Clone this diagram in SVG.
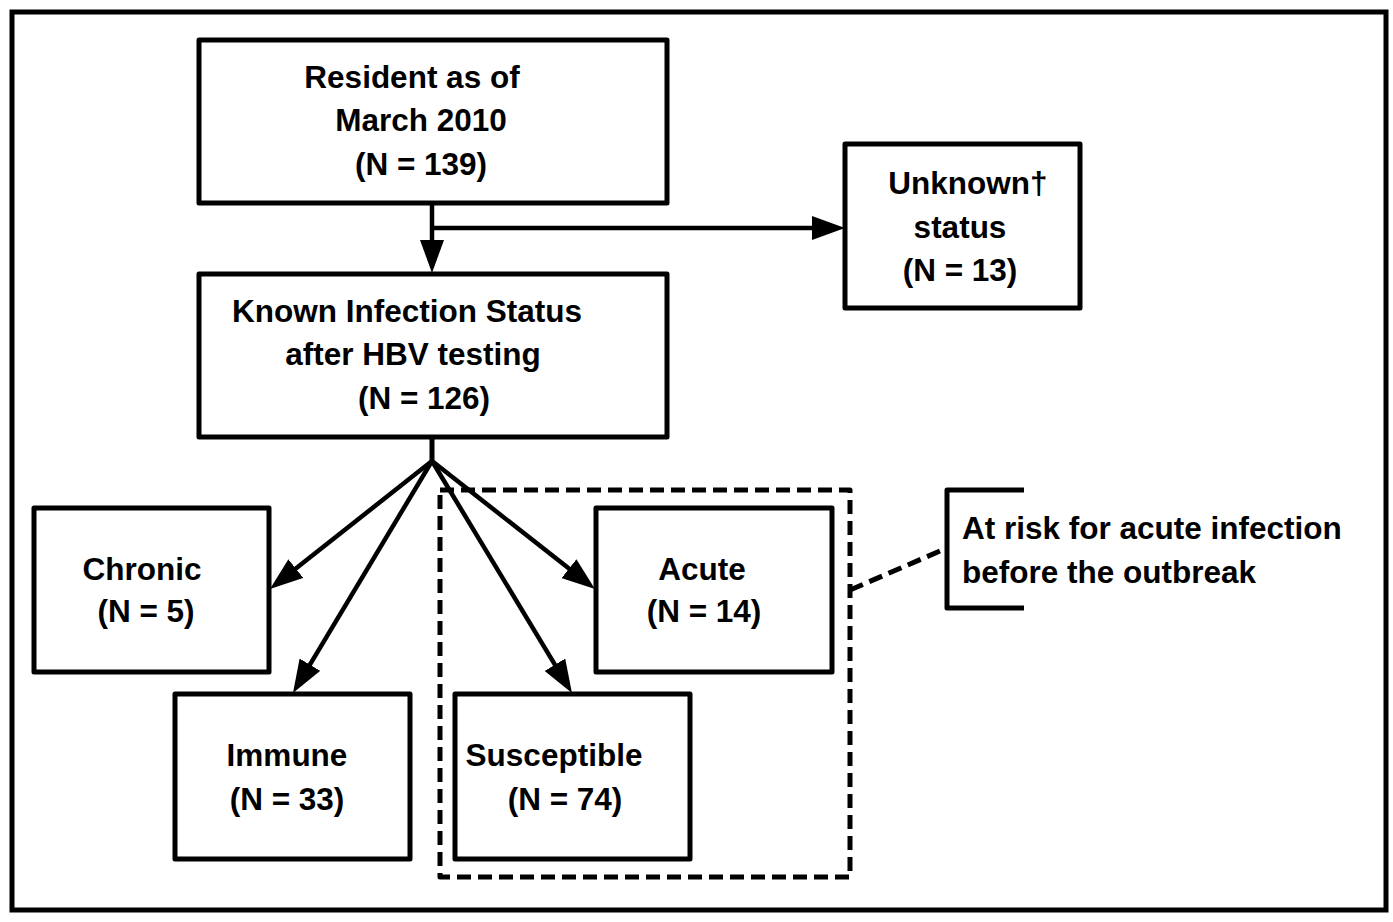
<svg xmlns="http://www.w3.org/2000/svg" width="1393" height="922" viewBox="0 0 1393 922">
<style>
  .box { fill: #fff; stroke: #000; stroke-width: 5; stroke-linejoin: round; }
  .t { font-family: "Liberation Sans", Arial, sans-serif; font-weight: bold; font-size: 31.5px; fill: #000; text-anchor: middle; }
  .tl { font-family: "Liberation Sans", Arial, sans-serif; font-weight: bold; font-size: 31.5px; fill: #000; text-anchor: start; }
  .ln { fill: none; stroke: #000; stroke-width: 5; }
  .arr { fill: none; stroke: #000; stroke-width: 4.5; marker-end: url(#ah); }
  .dash { fill: none; stroke: #000; stroke-width: 5; stroke-dasharray: 14 7; stroke-linejoin: round; }
</style>
<defs>
  <marker id="ah" markerUnits="userSpaceOnUse" markerWidth="33" markerHeight="24" refX="23" refY="12" orient="auto">
    <path d="M0,0 L33,12 L0,24 z" fill="#000"/>
  </marker>
</defs>
<rect width="1393" height="922" fill="#fff"/>
<rect x="12" y="12" width="1374" height="898" fill="none" stroke="#000" stroke-width="5"/>

<g id="connectors">
  <line class="arr" x1="432" y1="203" x2="432" y2="263"/>
  <line class="arr" x1="432" y1="228" x2="835" y2="228"/>
  <line class="ln" x1="432" y1="437" x2="432" y2="462"/>
  <line class="arr" x1="432" y1="461" x2="277.8" y2="582.8"/>
  <line class="arr" x1="432" y1="461" x2="298.1" y2="684.4"/>
  <line class="arr" x1="432" y1="461" x2="566.8" y2="684.4"/>
  <line class="arr" x1="432" y1="461" x2="587.1" y2="582.8"/>
  <line class="dash" x1="850" y1="590" x2="947" y2="548"/>
</g>

<g id="resident">
  <rect class="box" x="199" y="40" width="468" height="163"/>
  <text class="t" x="412" y="88">Resident as of</text>
  <text class="t" x="421" y="131">March 2010</text>
  <text class="t" x="421" y="175">(N = 139)</text>
</g>

<g id="unknown">
  <rect class="box" x="845" y="144" width="235" height="164"/>
  <text class="t" x="968" y="194">Unknown†</text>
  <text class="t" x="960" y="238">status</text>
  <text class="t" x="960" y="281">(N = 13)</text>
</g>

<g id="known">
  <rect class="box" x="199" y="274" width="468" height="163"/>
  <text class="t" x="407" y="322">Known Infection Status</text>
  <text class="t" x="413" y="365">after HBV testing</text>
  <text class="t" x="424" y="409">(N = 126)</text>
</g>

<g id="chronic">
  <rect class="box" x="34" y="508" width="235" height="164"/>
  <text class="t" x="142" y="580">Chronic</text>
  <text class="t" x="146" y="622">(N = 5)</text>
</g>

<g id="immune">
  <rect class="box" x="175" y="694" width="235" height="165"/>
  <text class="t" x="287" y="766">Immune</text>
  <text class="t" x="287" y="810">(N = 33)</text>
</g>

<g id="at-risk-group">
  <rect class="dash" x="440" y="490" width="410" height="387"/>
</g>

<g id="susceptible">
  <rect class="box" x="455" y="694" width="235" height="165"/>
  <text class="t" x="554" y="766">Susceptible</text>
  <text class="t" x="565" y="810">(N = 74)</text>
</g>

<g id="acute">
  <rect class="box" x="596" y="508" width="236" height="164"/>
  <text class="t" x="702" y="580">Acute</text>
  <text class="t" x="704" y="622">(N = 14)</text>
</g>

<g id="at-risk-label">
  <path class="ln" d="M1024,490 L947,490 L947,608 L1024,608" stroke-linejoin="round"/>
  <text class="tl" x="962" y="539">At risk for acute infection</text>
  <text class="tl" x="962" y="583">before the outbreak</text>
</g>
</svg>
